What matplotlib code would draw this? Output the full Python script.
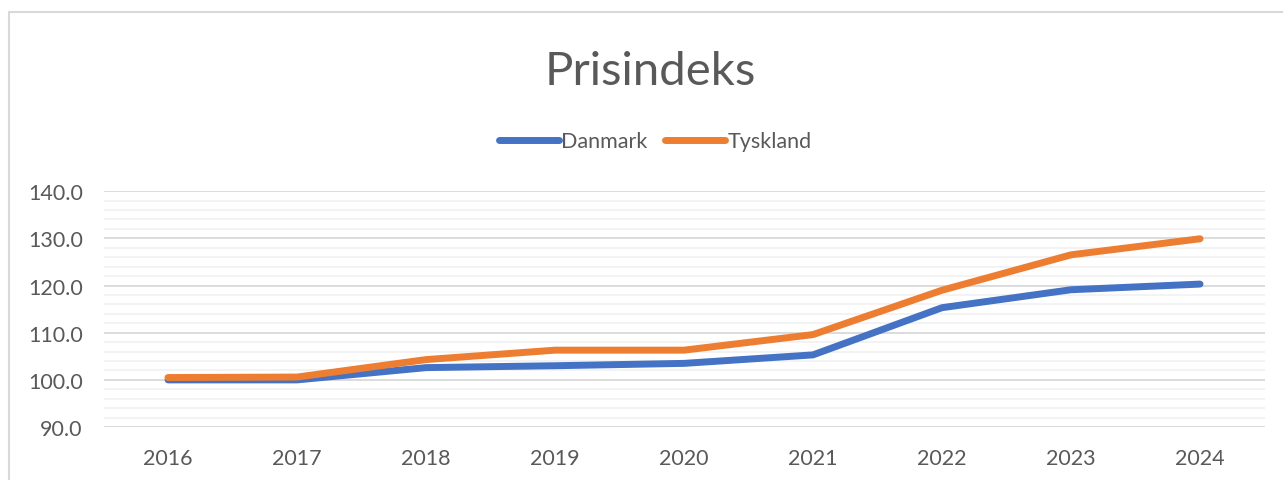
import matplotlib.pyplot as plt
import numpy as np
from matplotlib.patches import Rectangle
from matplotlib.ticker import MultipleLocator

years = ['2016', '2017', '2018', '2019', '2020', '2021', '2022', '2023', '2024']
danmark = [100.0, 100.0, 102.6, 103.0, 103.5, 105.3, 115.3, 119.1, 120.3]
tyskland = [100.5, 100.6, 104.3, 106.3, 106.3, 109.6, 119.0, 126.5, 129.9]

plt.rcParams['font.family'] = ['Lato', 'DejaVu Sans']
text_color = '#595959'

fig = plt.figure(figsize=(12.83, 4.81), dpi=100)
ax = fig.add_axes([0.0807, 0.110, 0.9049, 0.4906])

# chart border (Excel style)
fig.patches.append(Rectangle((9 / 1283, -0.05), 1.2, (481 - 13) / 481 + 0.05,
                             transform=fig.transFigure, fill=False,
                             edgecolor='#D9D9D9', linewidth=1.5))

x = np.arange(len(years))
ax.plot(x, danmark, color='#4472C4', lw=5, solid_capstyle='round',
        solid_joinstyle='round', label='Danmark')
ax.plot(x, tyskland, color='#ED7D31', lw=5, solid_capstyle='round',
        solid_joinstyle='round', label='Tyskland')

ax.set_xlim(-0.5, len(years) - 0.5)
ax.set_ylim(90, 140)
ax.set_xticks(x)
ax.set_xticklabels(years)
ax.yaxis.set_major_locator(MultipleLocator(10))
ax.yaxis.set_minor_locator(MultipleLocator(2))
ax.yaxis.set_major_formatter(lambda v, p: f'{v:.1f}')

ax.grid(which='major', axis='y', color='#D9D9D9', lw=1.3)
ax.grid(which='minor', axis='y', color='#F2F2F2', lw=1.3)
ax.set_axisbelow(True)
for s in ax.spines.values():
    s.set_visible(False)
ax.tick_params(which='both', length=0, labelsize=15.5, labelcolor=text_color)
ax.tick_params(axis='y', pad=15)
ax.tick_params(axis='x', pad=15)

fig.text(0.507, 0.850, 'Prisindeks', ha='center', va='center',
         fontsize=34, color=text_color)
leg = fig.legend(loc='center', bbox_to_anchor=(0.5105, 0.704), ncol=2,
                 frameon=False, fontsize=15.5, handlelength=2.8,
                 handletextpad=0.1, columnspacing=0.8)
for t in leg.get_texts():
    t.set_color(text_color)

fig.savefig('out.png', dpi=100)
